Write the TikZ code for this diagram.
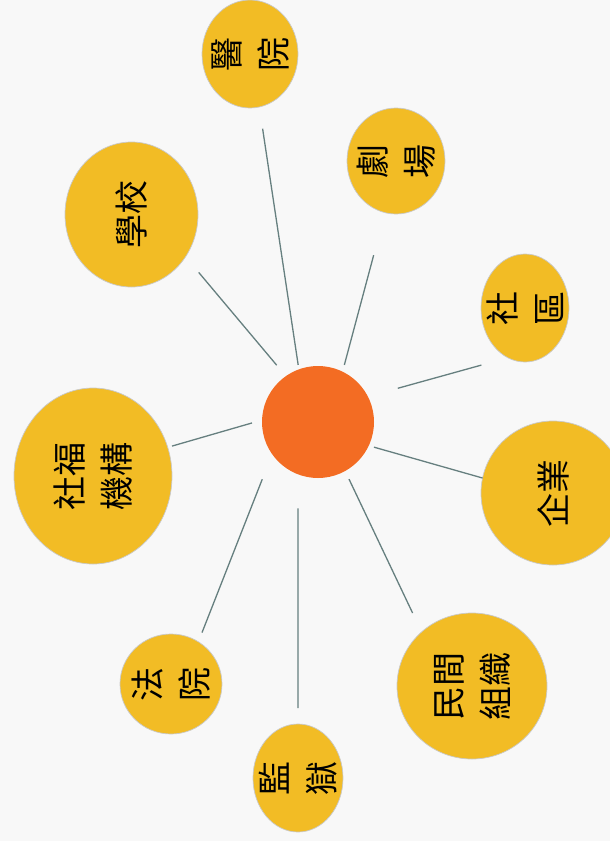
\documentclass[tikz,border=0pt]{standalone}
\usepackage{fontspec}
\usepackage{xcolor}
\usepackage{tikz}
\usetikzlibrary{shapes.geometric}

\newfontfamily\cjk{Noto Sans CJK TC}

\definecolor{bgcol}{HTML}{F8F8F8}
\definecolor{hubcol}{HTML}{F36C23}
\definecolor{placecol}{HTML}{F2BC25}
\definecolor{rimcol}{HTML}{C9C9C9}
\definecolor{spokecol}{HTML}{667F7F}

\tikzset{
	hubnode/.style={circle, fill=hubcol, minimum size=112pt, inner sep=0pt, outer sep=0pt},
	place/.style={ellipse, fill=placecol, draw=rimcol, line width=0.7pt, inner sep=0pt, outer sep=0pt},
	txt/.style={rotate=90, align=center, text=black, font=\cjk\fontsize{34}{47}\selectfont},
	spoke/.style={draw=spokecol, line width=1.3pt}
}

\begin{document}
\begin{tikzpicture}[x=1pt, y=-1pt]
					\useasboundingbox (0,0) rectangle (610,841);
					\clip (0,0) rectangle (610,841);
					\fill[bgcol] (0,0) rectangle (610,841);
					
					\node[hubnode] (hub) at (318,422) {};
					
					\begin{scope}
						\node[place, minimum width=96pt, minimum height=108pt, label={[txt]center:醫\\院}] (yiyuan) at (250,54) {};
						\node[place, minimum width=98pt, minimum height=106pt, label={[txt]center:劇\\場}] (juchang) at (396,161) {};
						\node[place, minimum width=88pt, minimum height=108pt, label={[txt]center:社\\區}] (shequ) at (525,308) {};
						\node[place, minimum width=144pt, minimum height=144pt, label={[txt]center:企業}] (qiye) at (553,493) {};
						\node[place, minimum width=150pt, minimum height=146pt, label={[txt]center:民間\\組織}] (minjian) at (472,686) {};
						\node[place, minimum width=90pt, minimum height=108pt, label={[txt]center:監\\獄}] (jianyu) at (298,778) {};
						\node[place, minimum width=102pt, minimum height=100pt, label={[txt]center:法\\院}] (fayuan) at (171,684) {};
						\node[place, minimum width=158pt, minimum height=176pt, label={[txt]center:社福\\機構}] (shefu) at (93,476) {};
						\node[place, minimum width=133pt, minimum height=145pt, label={[txt]center:學校}] (xuexiao) at (131.5,214.5) {};
					\end{scope}
					
					\begin{scope}[spoke]
						\draw[shorten <=4.5pt, shorten >=22pt] (hub.110) -- (yiyuan.280);
						\draw[shorten <=7pt, shorten >=44pt] (hub.64) -- (juchang.258);
						\draw[shorten <=31pt, shorten >=27.5pt] (hub.27) -- (shequ.251);
						\draw[shorten <=5.4pt] (hub.335) -- (qiye.168);
						\draw[shorten <=9pt, shorten >=21pt] (hub.299) -- (minjian.133);
						\draw[shorten <=34pt, shorten >=16pt] (hub.249) -- (jianyu.90);
						\draw[shorten <=27pt, shorten >=10pt] (hub.215) -- (fayuan.57);
						\draw[shorten <=10.4pt, shorten >=4.5pt] (hub.178) -- (shefu.21);
						\draw[shorten <=14.3pt, shorten >=20.5pt] (hub.125) -- (xuexiao.322);
					\end{scope}
				\end{tikzpicture}
\end{document}
